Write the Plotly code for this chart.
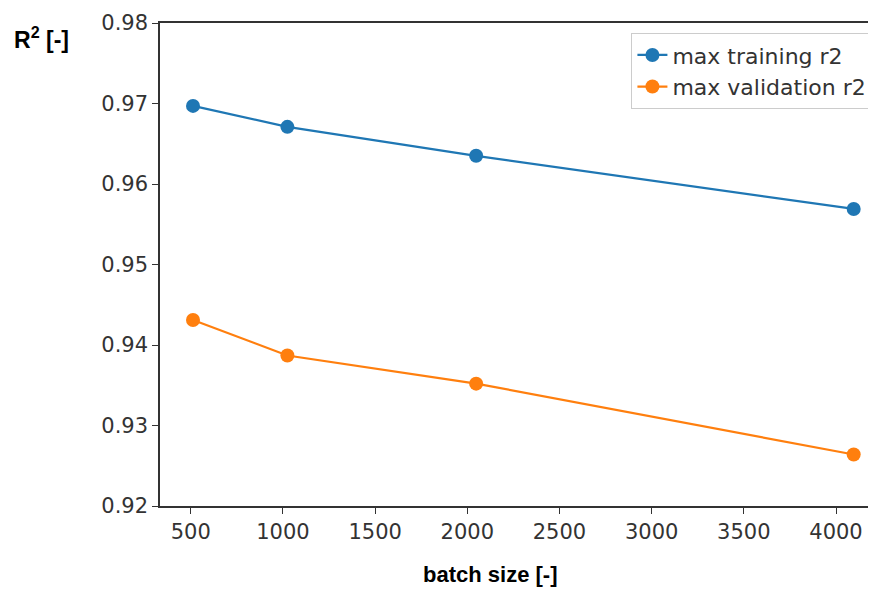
import plotly.graph_objects as go

batch_sizes = [512, 1024, 2048, 4096]
train_r2 = [0.9697, 0.9671, 0.9635, 0.9569]
val_r2 = [0.9431, 0.9387, 0.9352, 0.9264]
y_ticks = [0.92, 0.93, 0.94, 0.95, 0.96, 0.97, 0.98]
x_ticks = [500, 1000, 1500, 2000, 2500, 3000, 3500, 4000]

fig = go.Figure()
fig.add_trace(go.Scatter(x=batch_sizes, y=train_r2, mode="lines+markers", name="max training r2",
                         line=dict(color="#1f77b4", width=2.2), marker=dict(size=14, color="#1f77b4")))
fig.add_trace(go.Scatter(x=batch_sizes, y=val_r2, mode="lines+markers", name="max validation r2",
                         line=dict(color="#ff7f0e", width=2.2), marker=dict(size=14, color="#ff7f0e")))

tickfont = dict(family="DejaVu Sans", size=21, color="#333333")
fig.update_layout(
    width=868, height=581,
    margin=dict(l=152, r=0, t=15, b=83, autoexpand=False),
    plot_bgcolor="white", paper_bgcolor="white",
    showlegend=True,
    legend=dict(x=0.995, y=0.979, xanchor="right", yanchor="top",
                bgcolor="white", bordercolor="#cccccc", borderwidth=1,
                font=dict(family="DejaVu Sans", size=22, color="#333333")),
    xaxis=dict(range=[333, 4217], tickvals=x_ticks, showgrid=False, zeroline=False,
               showline=True, linecolor="#333333", linewidth=1.5, mirror=True,
               ticks="outside", ticklen=6, tickcolor="#333333", tickfont=tickfont),
    yaxis=dict(range=[0.92, 0.98], tickvals=y_ticks, tickformat=".2f", showgrid=False, zeroline=False,
               showline=True, linecolor="#333333", linewidth=1.5,
               ticks="outside", ticklen=6, tickcolor="#333333", tickfont=tickfont),
    annotations=[
        dict(text="<b>R<sup>2</sup> [-]</b>", xref="paper", yref="paper", x=-0.207, y=0.969,
             xanchor="left", yanchor="middle", showarrow=False,
             font=dict(family="Liberation Sans", size=23, color="black")),
        dict(text="<b>batch size [-]</b>", xref="paper", yref="paper", x=0.461, y=-0.142,
             xanchor="center", yanchor="middle", showarrow=False,
             font=dict(family="Liberation Sans", size=22, color="black")),
    ],
)
fig.write_html("out.html")
